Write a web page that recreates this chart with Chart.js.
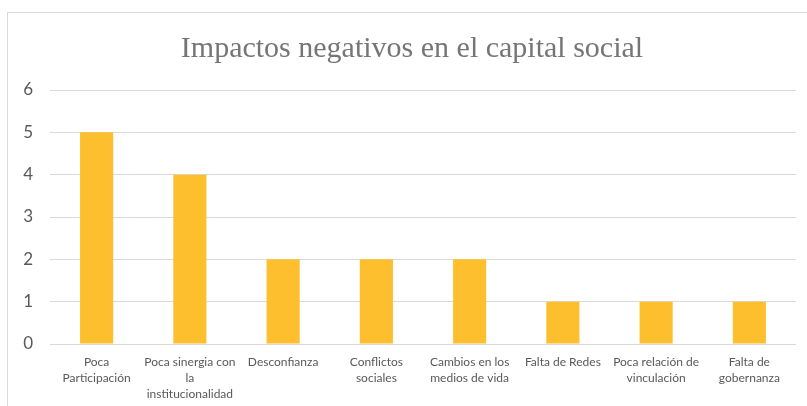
<!DOCTYPE html>
<html>
<head>
<meta charset="utf-8">
<script src="https://cdn.jsdelivr.net/npm/chart.js@4"></script>
<style>
  html, body { margin: 0; padding: 0; background: #fff; overflow: hidden; }
  #wrap { position: relative; width: 807px; height: 406px; overflow: hidden; }
  #frame { position: absolute; left: 7px; top: 12px; width: 820px; height: 420px; border: 1px solid #d9d9d9; box-sizing: border-box; }
  canvas { position: absolute; left: 0; top: 0; }
</style>
</head>
<body>
<div id="wrap">
  <div id="frame"></div>
  <!-- canvas a bit wider than the window so the title centres on the frame -->
  <canvas id="barChart" width="824" height="406"></canvas>
</div>
<script>
// categories, each one split in the lines shown under the bar
var categories = [
  ['Poca', 'Participación'],
  ['Poca sinergia con', 'la', 'institucionalidad'],
  ['Desconfianza'],
  ['Conflictos', 'sociales'],
  ['Cambios en los', 'medios de vida'],
  ['Falta de Redes'],
  ['Poca relación de', 'vinculación'],
  ['Falta de', 'gobernanza']
];
var impactos = [5, 4, 2, 2, 2, 1, 1, 1];
var yTicks = [0, 1, 2, 3, 4, 5, 6];

var chartTitle = 'Impactos negativos en el capital social';

new Chart(document.getElementById('barChart'), {
  type: 'bar',
  data: {
    labels: categories,
    datasets: [{
      data: impactos,
      backgroundColor: '#fdbf2d',
      borderWidth: 0,
      categoryPercentage: 1,
      barPercentage: 0.355
    }]
  },
  options: {
    responsive: false,
    animation: false,
    layout: {
      padding: { left: 0, right: 0, top: 0, bottom: 3 }
    },
    plugins: {
      legend: { display: false },
      tooltip: { enabled: false },
      title: {
        display: true,
        text: chartTitle,
        color: '#757575',
        font: { family: '"Liberation Serif", "Times New Roman", serif', size: 30, weight: 'normal' },
        padding: { top: 31, bottom: 23 }
      }
    },
    scales: {
      x: {
        afterFit: function(scale) {
          scale.height = 59;
        },
        grid: { display: false, drawTicks: false },
        border: { display: false },
        ticks: {
          color: '#595959',
          maxRotation: 0,
          autoSkip: false,
          padding: 10,
          font: { family: 'Lato, "Open Sans", sans-serif', size: 12, lineHeight: 1.35 }
        }
      },
      y: {
        min: yTicks[0],
        max: yTicks[yTicks.length - 1],
        afterFit: function(scale) {
          scale.width = 50;
        },
        grid: { color: '#d9d9d9', lineWidth: 1, drawTicks: false },
        border: { display: false },
        ticks: {
          stepSize: 1,
          color: '#595959',
          padding: 17,
          font: { family: 'Lato, "Open Sans", sans-serif', size: 17 }
        }
      },
      // empty right axis, only keeps the plot ending where the reference does
      yRight: {
        position: 'right',
        min: yTicks[0],
        max: yTicks[yTicks.length - 1],
        afterFit: function(scale) {
          scale.width = 28;
        },
        grid: { display: false, drawTicks: false },
        border: { display: false },
        ticks: { display: false }
      }
    }
  }
});
</script>
</body>
</html>
